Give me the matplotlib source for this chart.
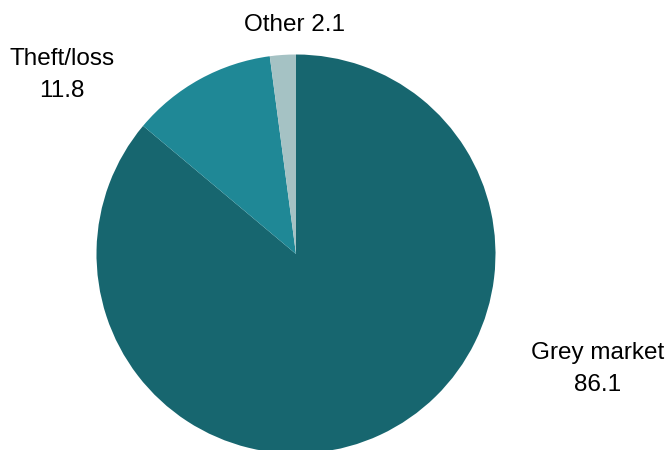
import matplotlib.pyplot as plt

plt.rcParams['font.family'] = ['Liberation Sans', 'DejaVu Sans']

labels = ["Grey market", "Theft/loss", "Other"]
values = [86.1, 11.8, 2.1]
colors = ["#17666F", "#1F8896", "#A5C2C4"]

fig = plt.figure(figsize=(6.68, 4.5), dpi=100)
ax = fig.add_axes([0, 0, 1, 1])

# pie laid out in pixel-like units so the canvas maps 1:1
ax.pie(values, colors=colors, startangle=90, counterclock=False,
       center=(296, 196), radius=199.5,
       wedgeprops=dict(linewidth=0))
ax.set_xlim(0, 668)
ax.set_ylim(0, 450)
ax.set_aspect('equal')
ax.axis('off')

fs = 17.5
ax.text(598, 59, f"{labels[0]}\n{values[0]}", ha='center', va='baseline',
        fontsize=fs, linespacing=1.6)
ax.text(62, 353, f"{labels[1]}\n{values[1]}", ha='center', va='baseline',
        fontsize=fs, linespacing=1.6)
ax.text(294, 419, f"{labels[2]} {values[2]}", ha='center', va='baseline',
        fontsize=fs)

fig.savefig("out.png", dpi=100)
